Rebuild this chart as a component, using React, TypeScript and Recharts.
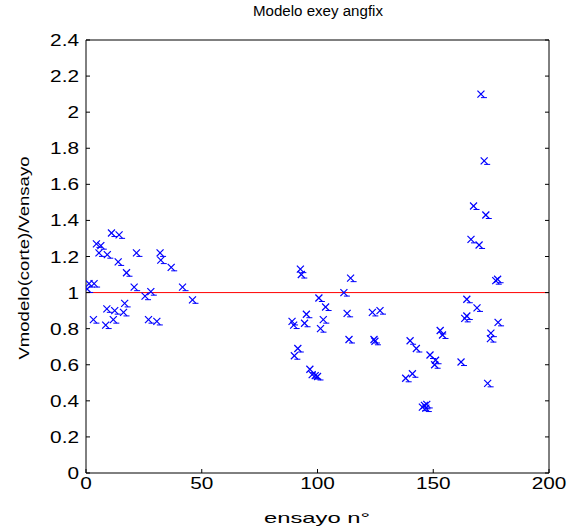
import React from 'react';
import { ScatterChart, Scatter, XAxis, YAxis, ReferenceLine } from 'recharts';

const trialNumbers = [
  0.5, 1.3, 3.2, 3.5, 4.5, 5.6, 6.4, 8.5, 9, 9.2, 11, 11.8, 12.4, 13.9, 14.3, 16.2, 16.7, 17.5, 20.8, 21.8, 25.5, 27, 28, 30.6, 32, 32.3, 36.8, 41.7, 46,
  89, 89.7, 90, 91.5, 92.6, 93, 94.4, 95.2, 96.7, 97.7, 99, 100, 100.6, 101.3, 102.5, 103.5, 111.4, 112.8, 113.6, 114.3, 123.7, 124.4, 124.8, 127,
  138.1, 140, 141, 142.7, 145.3, 146.2, 146.8, 147.2, 148.6, 150.6, 151, 153, 154, 162,
  163.6, 164.5, 164.5, 166.3, 167.4, 168.9, 169.8, 170.6, 172, 172.7, 173.5, 174.7, 174.9, 177, 177.8, 178,
];
const ratios = [
  1.02, 1.05, 0.85, 1.05, 1.27, 1.22, 1.26, 0.82, 0.91, 1.21, 1.33, 0.85, 0.9, 1.17, 1.32, 0.89, 0.94, 1.11, 1.03, 1.22, 0.98, 0.85, 1.005, 0.84, 1.22, 1.18, 1.14, 1.03, 0.96,
  0.84, 0.82, 0.65, 0.69, 1.13, 1.1, 0.83, 0.88, 0.575, 0.545, 0.54, 0.535, 0.97, 0.8, 0.85, 0.92, 1.0, 0.885, 0.74, 1.08, 0.89, 0.74, 0.73, 0.9,
  0.525, 0.733, 0.55, 0.69, 0.365, 0.375, 0.36, 0.38, 0.654, 0.6, 0.625, 0.79, 0.765, 0.615,
  0.857, 0.87, 0.963, 1.295, 1.48, 0.915, 1.264, 2.1, 1.73, 1.43, 0.497, 0.745, 0.775, 1.066, 1.074, 0.835,
];
const xTicks = [0, 50, 100, 150, 200];
const yTicks = [0, 0.2, 0.4, 0.6, 0.8, 1, 1.2, 1.4, 1.6, 1.8, 2, 2.2, 2.4];
const referenceValue = 1;
const titleText = 'Modelo exey angfix';
const xLabelText = 'ensayo n°';
const yLabelText = 'Vmodelo(corte)/Vensayo';

const points = trialNumbers.map((x, i) => ({ x, y: ratios[i] }));

const F = '"Liberation Sans", Arial, Helvetica, sans-serif';
const TICK = 4;
const fmt = (v: number) => String(Number(Number(v).toFixed(1)));

const BottomTick = (p: any) => {
  const { x, y, payload } = p;
  return (
    <g>
      <line x1={x} x2={x} y1={y} y2={y - TICK} stroke="#000" strokeWidth={1} />
      <text transform={`translate(${x},${y + 16}) scale(1.3,1)`} textAnchor="middle" fontSize={16} fontFamily={F} fill="#000">
        {fmt(payload.value)}
      </text>
    </g>
  );
};
const TopTick = (p: any) => {
  const { x, y } = p;
  return <line x1={x} x2={x} y1={y} y2={y + TICK} stroke="#000" strokeWidth={1} />;
};
const LeftTick = (p: any) => {
  const { x, y, payload } = p;
  return (
    <g>
      <line x1={x} x2={x + TICK} y1={y} y2={y} stroke="#000" strokeWidth={1} />
      <text transform={`translate(${x - 7},${y + 6}) scale(1.3,1)`} textAnchor="end" fontSize={16} fontFamily={F} fill="#000">
        {fmt(payload.value)}
      </text>
    </g>
  );
};
const RightTick = (p: any) => {
  const { x, y } = p;
  return <line x1={x} x2={x - TICK} y1={y} y2={y} stroke="#000" strokeWidth={1} />;
};

const XMarker = (p: any) => {
  const { cx, cy } = p;
  const r = 3.5;
  return (
    <g stroke="#0000ff" strokeWidth={1.2} fill="none">
      <line x1={cx - r} y1={cy - r} x2={cx + r} y2={cy + r} />
      <line x1={cx - r} y1={cy + r} x2={cx + r} y2={cy - r} />
      <line x1={cx} y1={cy + r} x2={cx + r + 2.5} y2={cy + r} strokeWidth={1} />
    </g>
  );
};

export default function App() {
  return (
    <div style={{ position: 'relative', width: 583, height: 527, background: '#fff' }}>
      <style>{`body{margin:0;background:#fff}`}</style>
      <ScatterChart width={583} height={527} margin={{ top: 0, right: 0, bottom: 0, left: 0 }}>
        <XAxis
          type="number"
          dataKey="x"
          domain={[0, 200]}
          ticks={xTicks}
          height={54}
          tickLine={false}
          tickSize={0}
          tickMargin={0}
          tick={BottomTick}
          axisLine={{ stroke: '#000', strokeWidth: 1 }}
          allowDataOverflow
        />
        <XAxis
          xAxisId="top"
          orientation="top"
          type="number"
          domain={[0, 200]}
          ticks={xTicks}
          height={40}
          tickLine={false}
          tickSize={0}
          tickMargin={0}
          tick={TopTick}
          axisLine={{ stroke: '#000', strokeWidth: 1 }}
          allowDataOverflow
        />
        <YAxis
          type="number"
          dataKey="y"
          domain={[0, 2.4]}
          ticks={yTicks}
          width={86}
          tickLine={false}
          tickSize={0}
          tickMargin={0}
          tick={LeftTick}
          axisLine={{ stroke: '#000', strokeWidth: 1 }}
          allowDataOverflow
        />
        <YAxis
          yAxisId="right"
          orientation="right"
          type="number"
          domain={[0, 2.4]}
          ticks={yTicks}
          width={34}
          tickLine={false}
          tickSize={0}
          tickMargin={0}
          tick={RightTick}
          axisLine={{ stroke: '#000', strokeWidth: 1 }}
          allowDataOverflow
        />
        <ReferenceLine y={referenceValue} stroke="#ff0000" strokeWidth={1} ifOverflow="extendDomain" />
        <Scatter data={points} shape={XMarker} isAnimationActive={false} />
        <Scatter data={[]} xAxisId="top" yAxisId="right" isAnimationActive={false} />
      </ScatterChart>
      <svg width={583} height={527} style={{ position: 'absolute', left: 0, top: 0, pointerEvents: 'none' }}>
        <text x={318} y={16} textAnchor="middle" fontSize={14} fontFamily={F} fill="#000" textLength={130} lengthAdjust="spacingAndGlyphs">
          {titleText}
        </text>
        <text x={317} y={523} textAnchor="middle" fontSize={15} fontFamily={F} fill="#000" textLength={106} lengthAdjust="spacingAndGlyphs">
          {xLabelText}
        </text>
        <text transform="translate(29,258) rotate(-90)" textAnchor="middle" fontSize={15} fontFamily={F} fill="#000" textLength={203} lengthAdjust="spacingAndGlyphs">
          {yLabelText}
        </text>
      </svg>
    </div>
  );
}
